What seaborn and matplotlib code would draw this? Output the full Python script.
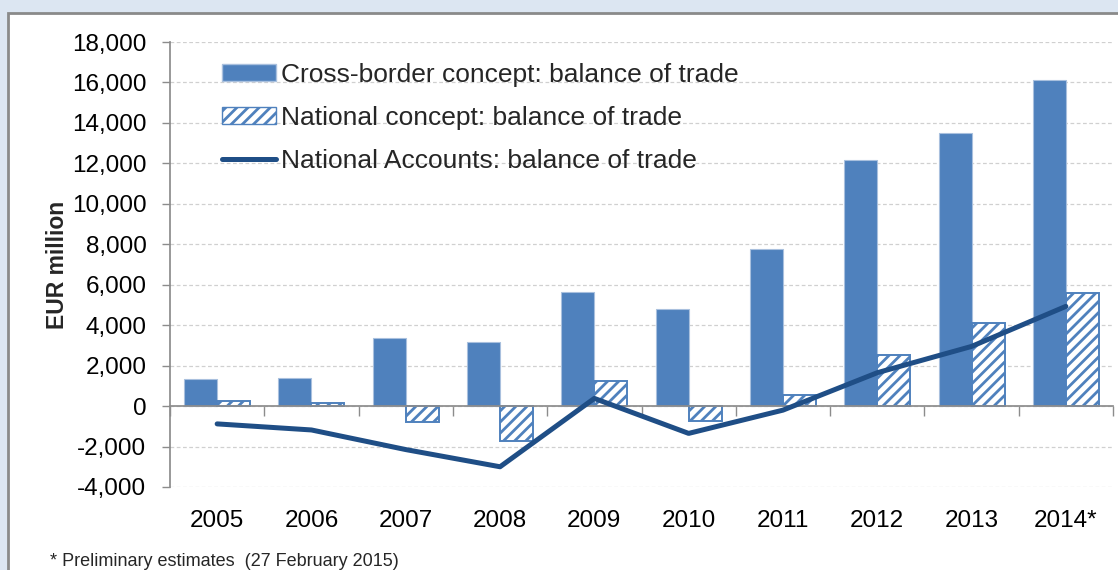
import matplotlib
matplotlib.use("Agg")
import matplotlib.pyplot as plt
import matplotlib.patches as mpatches
from matplotlib.lines import Line2D
from matplotlib.ticker import FuncFormatter, FixedLocator
import numpy as np
import pandas as pd
import seaborn as sns

# data (EUR million)
years = ["2005", "2006", "2007", "2008", "2009", "2010", "2011", "2012", "2013", "2014*"]
cross_border = [1320, 1400, 3360, 3160, 5640, 4800, 7790, 12180, 13510, 16100]
national_concept = [250, 130, -775, -1730, 1240, -725, 560, 2540, 4130, 5610]
national_accounts = [-880, -1180, -2150, -3000, 380, -1350, -200, 1650, 2950, 4930]
y_ticks = list(range(-4000, 18001, 2000))

series_names = [
    "Cross-border concept: balance of trade",
    "National concept: balance of trade",
    "National Accounts: balance of trade",
]

BAR_BLUE = "#4f81bd"
LINE_BLUE = "#1f4e86"
GRID_GREY = "#d0d0d0"
AXIS_GREY = "#8c8c8c"

sns.set_theme(style="white")
plt.rcParams["font.family"] = ["Liberation Sans", "DejaVu Sans"]
plt.rcParams["hatch.linewidth"] = 2.0

bars = pd.DataFrame({
    "year": years * 2,
    "value": cross_border + national_concept,
    "series": [series_names[0]] * len(years) + [series_names[1]] * len(years),
})

fig = plt.figure(figsize=(11.18, 5.70), dpi=100)
fig.patch.set_facecolor("#dce6f2")

# white panel with grey border, running off the right and bottom edges
panel = mpatches.Rectangle(
    (8 / 1118, -0.2), 1.2, 1.2 - 13 / 570,
    transform=fig.transFigure, facecolor="white",
    edgecolor="#8a8a8a", linewidth=2.0, zorder=-5,
)
fig.patches.append(panel)

ax = fig.add_axes([170 / 1118, 1 - 487 / 570, 943 / 1118, 445 / 570])
ax.set_facecolor("none")

sns.barplot(
    data=bars, x="year", y="value", hue="series",
    palette=[BAR_BLUE, BAR_BLUE], width=0.7, dodge=True,
    saturation=1, legend=False, ax=ax, zorder=2,
)

# first series solid, second hatched
for patch in ax.containers[0]:
    patch.set_facecolor(BAR_BLUE)
    patch.set_edgecolor("#a9c0de")
    patch.set_linewidth(0.8)
for patch in ax.containers[1]:
    patch.set_facecolor("white")
    patch.set_edgecolor(BAR_BLUE)
    patch.set_hatch("///")
    patch.set_linewidth(1.4)

sns.lineplot(
    x=np.arange(len(years)), y=national_accounts, ax=ax,
    color=LINE_BLUE, linewidth=3.6, zorder=4, solid_capstyle="round",
)

ax.set_xlim(-0.5, len(years) - 0.5)
ax.set_ylim(-4000, 18000)
ax.set_yticks(y_ticks)
ax.yaxis.set_major_formatter(FuncFormatter(lambda v, _: f"{v:,.0f}"))
ax.yaxis.grid(True, color=GRID_GREY, linestyle=(0, (3, 2)), linewidth=0.9)
ax.set_axisbelow(True)

# x axis sits on zero, labels hang at the bottom
for side in ["top", "right"]:
    ax.spines[side].set_visible(False)
ax.spines["left"].set_color(AXIS_GREY)
ax.spines["bottom"].set_color(AXIS_GREY)
ax.spines["bottom"].set_position(("data", 0))
ax.spines["bottom"].set_zorder(3)

ax.set_xticks(range(len(years)))
ax.set_xticklabels(years)
ax.xaxis.set_minor_locator(FixedLocator(np.arange(len(years) + 1) - 0.5))
ax.tick_params(axis="x", which="major", length=0, pad=75, labelsize=17.5, colors="black")
ax.tick_params(axis="x", which="minor", length=7, width=1, color=AXIS_GREY, direction="out", bottom=True)
ax.tick_params(axis="y", length=6, width=1, color=AXIS_GREY, direction="out", left=True,
               labelsize=17.5, labelcolor="black", pad=11)

ax.set_xlabel("")
ax.set_ylabel("EUR million", fontsize=16.5, fontweight="bold", labelpad=2)

handles = [
    mpatches.Patch(facecolor=BAR_BLUE, edgecolor="#a9c0de"),
    mpatches.Patch(facecolor="white", edgecolor=BAR_BLUE, hatch="///"),
    Line2D([0], [0], color=LINE_BLUE, linewidth=3.6),
]
ax.legend(
    handles, series_names, loc="upper left", bbox_to_anchor=(0.055, 0.953),
    frameon=False, fontsize=19, handlelength=2.05, handleheight=0.6,
    handletextpad=0.2, labelspacing=0.72, borderaxespad=0, borderpad=0,
)

fig.text(50 / 1118, 1 - 562 / 570, "* Preliminary estimates  (27 February 2015)",
         fontsize=13, va="center", ha="left")

fig.savefig("out.png", dpi=100, facecolor=fig.get_facecolor())
